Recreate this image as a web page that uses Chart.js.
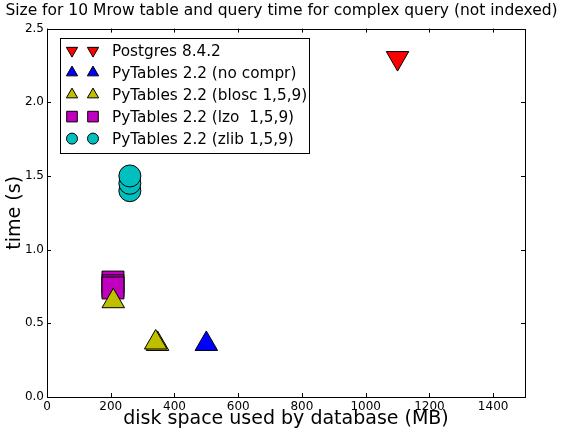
<!DOCTYPE html>
<html>
<head>
<meta charset="utf-8">
<script src="https://cdn.jsdelivr.net/npm/chart.js@4.4.1/dist/chart.umd.min.js"></script>
<style>
    html, body { margin: 0; padding: 0; background: #fff; }
    #wrap { width: 563px; height: 431px; }
</style>
</head>
<body>
<div id="wrap"><canvas id="myChart" width="563" height="431"></canvas></div>
<script>
"use strict"

const chartTitle = "Size for 10 Mrow table and query time for complex query (not indexed)";
const seriesNames = ["Postgres 8.4.2", "PyTables 2.2 (no compr)", "PyTables 2.2 (blosc 1,5,9)", "PyTables 2.2 (lzo  1,5,9)", "PyTables 2.2 (zlib 1,5,9)"];

// disk space (MB) / query time (s)
const postgresX = [1100];
const postgresY = [2.30];
const noComprX = [500];
const noComprY = [0.36];
const bloscX = [208, 347, 341];
const bloscY = [0.65, 0.36, 0.37];
const lzoX = [207, 207, 207];
const lzoY = [0.78, 0.755, 0.74];
const zlibX = [260, 260, 260];
const zlibY = [1.40, 1.45, 1.50];

const xTickValues = [0, 200, 400, 600, 800, 1000, 1200, 1400];
const yTickValues = [0.0, 0.5, 1.0, 1.5, 2.0, 2.5];

const FONT = "'DejaVu Sans', sans-serif";
Chart.defaults.font.family = FONT;
Chart.defaults.color = "#000";

function points(xs, ys) {
    let out = [];
    for (let i = 0; i < xs.length; i++) {
        out.push({ x: xs[i], y: ys[i] });
    }
    return out;
}

const styles = [
    { color: "#ff0000", pointStyle: "triangle", rotation: 180, radius: 13, legendRadius: 6.5 },
    { color: "#0000ff", pointStyle: "triangle", rotation: 0, radius: 13, legendRadius: 6.5 },
    { color: "#bfbf00", pointStyle: "triangle", rotation: 0, radius: 13, legendRadius: 6.5 },
    { color: "#bf00bf", pointStyle: "rect", rotation: 0, radius: 15.5, legendRadius: 7.5 },
    { color: "#00bfbf", pointStyle: "circle", rotation: 0, radius: 11, legendRadius: 5.5 }
];

const allData = [
    points(postgresX, postgresY),
    points(noComprX, noComprY),
    points(bloscX, bloscY),
    points(lzoX, lzoY),
    points(zlibX, zlibY)
];

let datasets = [];
for (let i = 0; i < seriesNames.length; i++) {
    datasets.push({
        label: seriesNames[i],
        data: allData[i],
        showLine: false,
        pointStyle: styles[i].pointStyle,
        pointRotation: styles[i].rotation,
        pointRadius: styles[i].radius,
        backgroundColor: styles[i].color,
        borderColor: "#000",
        borderWidth: 1,
        clip: false
    });
}

// matplotlib-like frame with inward ticks on all four sides
const framePlugin = {
    id: "frame",
    afterDatasetsDraw(chart) {
        let ctx = chart.ctx;
        let a = chart.chartArea;
        let xs = chart.scales.x;
        let ys = chart.scales.y;
        ctx.save();
        ctx.strokeStyle = "#000";
        ctx.lineWidth = 1;
        ctx.strokeRect(Math.round(a.left) + 0.5, Math.round(a.top) + 0.5, Math.round(a.right - a.left), Math.round(a.bottom - a.top));
        ctx.beginPath();
        for (let t of xs.ticks) {
            let px = Math.round(xs.getPixelForValue(t.value)) + 0.5;
            ctx.moveTo(px, a.bottom);
            ctx.lineTo(px, a.bottom - 4);
            ctx.moveTo(px, a.top);
            ctx.lineTo(px, a.top + 4);
        }
        for (let t of ys.ticks) {
            let py = Math.round(ys.getPixelForValue(t.value)) + 0.5;
            ctx.moveTo(a.left, py);
            ctx.lineTo(a.left + 4, py);
            ctx.moveTo(a.right, py);
            ctx.lineTo(a.right - 4, py);
        }
        ctx.stroke();
        ctx.restore();
    }
};

// legend with two markers per entry
const legendPlugin = {
    id: "twoMarkerLegend",
    afterDraw(chart) {
        let ctx = chart.ctx;
        let a = chart.chartArea;
        let left = a.left + 13;
        let top = a.top + 9;
        let w = 249;
        let h = 115;
        let rowH = 22;
        ctx.save();
        ctx.fillStyle = "#fff";
        ctx.fillRect(left, top, w, h);
        ctx.strokeStyle = "#000";
        ctx.lineWidth = 1;
        ctx.strokeRect(Math.round(left) + 0.5, Math.round(top) + 0.5, w, h);
        ctx.font = "15.3px " + FONT;
        ctx.textBaseline = "middle";
        for (let i = 0; i < seriesNames.length; i++) {
            let cy = top + 13 + i * rowH;
            let opts = { pointStyle: styles[i].pointStyle, rotation: styles[i].rotation, radius: styles[i].legendRadius, borderWidth: 1 };
            ctx.fillStyle = styles[i].color;
            ctx.strokeStyle = "#000";
            Chart.helpers.drawPoint(ctx, opts, left + 12, cy);
            ctx.fillStyle = styles[i].color;
            Chart.helpers.drawPoint(ctx, opts, left + 33, cy);
            ctx.fillStyle = "#000";
            ctx.fillText(seriesNames[i], left + 52, cy + 1);
        }
        ctx.restore();
    }
};

const ctx = document.getElementById("myChart").getContext("2d");
const myChart = new Chart(ctx, {
    type: "scatter",
    data: { datasets: datasets },
    plugins: [framePlugin, legendPlugin],
    options: {
        responsive: false,
        animation: false,
        events: [],
        layout: { padding: 0 },
        plugins: {
            legend: { display: false },
            tooltip: { enabled: false },
            title: {
                display: true,
                text: chartTitle,
                color: "#000",
                font: { size: 15.5, weight: "normal", family: FONT },
                padding: { top: 2, bottom: 8 }
            }
        },
        scales: {
            x: {
                type: "linear",
                min: 0,
                max: 1500,
                afterBuildTicks: function (scale) {
                    scale.ticks = xTickValues.map(v => ({ value: v }));
                },
                afterFit: function (scale) {
                    scale.height = 34;
                },
                grid: { display: false, drawTicks: false },
                border: { display: false },
                ticks: {
                    color: "#000",
                    font: { size: 12 },
                    padding: 3,
                    maxRotation: 0,
                    autoSkip: false,
                    callback: function (v) { return String(v); }
                },
                title: {
                    display: true,
                    text: "disk space used by database (MB)",
                    color: "#000",
                    font: { size: 19 },
                    padding: { top: 0, bottom: 1 }
                }
            },
            y: {
                type: "linear",
                min: 0,
                max: 2.5,
                afterBuildTicks: function (scale) {
                    scale.ticks = yTickValues.map(v => ({ value: v }));
                },
                afterFit: function (scale) {
                    scale.width = 47;
                },
                grid: { display: false, drawTicks: false },
                border: { display: false },
                ticks: {
                    color: "#000",
                    font: { size: 12 },
                    padding: 3,
                    autoSkip: false,
                    callback: function (v) { return Number(v).toFixed(1); }
                },
                title: {
                    display: true,
                    text: "time (s)",
                    color: "#000",
                    font: { size: 19 },
                    padding: { top: 4, bottom: 0 }
                }
            },
            // empty right-hand axis, only reserves the right margin
            yRight: {
                type: "linear",
                position: "right",
                min: 0,
                max: 1,
                afterFit: function (scale) {
                    scale.width = 38;
                },
                grid: { display: false, drawTicks: false },
                border: { display: false },
                ticks: { display: false }
            }
        }
    }
});
</script>
</body>
</html>
